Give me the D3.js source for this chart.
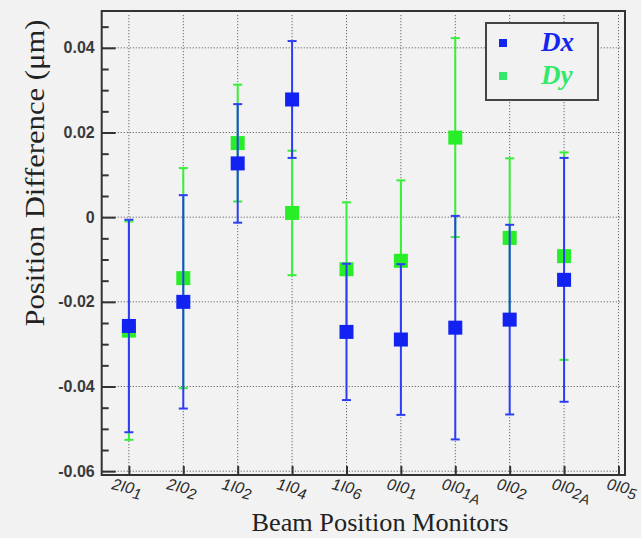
<!DOCTYPE html>
<html><head><meta charset="utf-8">
<script src="https://cdn.jsdelivr.net/npm/d3@7"></script>
<style>html,body{margin:0;padding:0;background:#f2f2f2;} svg{display:block;}</style>
</head><body>
<svg id="chart" width="641" height="538"></svg>
<script>
// ---- data ----
const categories = ["2I01","2I02","1I02","1I04","1I06","0I01","0I01A","0I02","0I02A","0I05"];
const dx    = [-0.0257, -0.0200, 0.0127, 0.0278, -0.0271, -0.0289, -0.0261, -0.0242, -0.0148];
const dxErr = [ 0.0251,  0.0252, 0.0140, 0.0138,  0.0161,  0.0178,  0.0264,  0.0224,  0.0288];
const dy    = [-0.0268, -0.0144, 0.0175, 0.0010, -0.0123, -0.0103,  0.0188, -0.0049, -0.0092];
const dyErr = [ 0.0258,  0.0260, 0.0138, 0.0147,  0.0158,  0.0190,  0.0235,  0.0188,  0.0245];
const yMajorTicks = [-0.06, -0.04, -0.02, 0, 0.02, 0.04];
const yMinorTicks = [-0.055,-0.05,-0.045,-0.035,-0.03,-0.025,-0.015,-0.01,-0.005,0.005,0.01,0.015,0.025,0.03,0.035,0.045];
const seriesNames = ["Dx","Dy"];

// ---- layout ----
const svg = d3.select("#chart");
const W = 641, H = 538;
const pL = 101.7, pR = 625, pT = 11, pB = 475;
const x = d3.scaleLinear().domain([-0.5, 9.12]).range([pL, pR]);
const y = d3.scaleLinear().domain([-0.0609, 0.0487]).range([pB, pT]);
const labelX = d3.scaleLinear().domain([0, 9]).range([111, 606]);

const BLUE = "#1222f0", BLUE_LINE = "#2c3ef4";
const GREEN = "#28ee28", GREEN_LINE = "#38ef38";

svg.append("rect").attr("width", W).attr("height", H).attr("fill", "#f2f2f2");

// grid
const grid = svg.append("g").attr("stroke", "#666").attr("stroke-width", 1).attr("stroke-dasharray", "1.2,1.8");
grid.selectAll("line.h").data(yMajorTicks).join("line")
  .attr("x1", pL + 1).attr("x2", pR - 3)
  .attr("y1", d => y(d)).attr("y2", d => y(d));
grid.selectAll("line.v").data(d3.range(categories.length)).join("line")
  .attr("x1", d => x(d)).attr("x2", d => x(d))
  .attr("y1", pT + 4).attr("y2", pB - 1);

// y axis ticks
const fmt = d => d === 0 ? "0" : d.toFixed(2);
const yAx = svg.append("g").attr("transform", `translate(${pL},0)`)
  .call(d3.axisLeft(y).tickValues(yMajorTicks).tickSize(-14).tickPadding(7).tickFormat(fmt));
yAx.select(".domain").remove();
yAx.selectAll("line").attr("stroke", "#333").attr("stroke-width", 2);
yAx.selectAll("text").attr("font-family", "'Liberation Sans', Arial, sans-serif")
  .attr("font-size", 16).attr("font-weight", "bold").attr("fill", "#3a3a3a");
const yMin = svg.append("g").attr("transform", `translate(${pL},0)`)
  .call(d3.axisLeft(y).tickValues(yMinorTicks).tickSize(-7).tickFormat(""));
yMin.select(".domain").remove();
yMin.selectAll("line").attr("stroke", "#333").attr("stroke-width", 2);

// x axis ticks
const xAx = svg.append("g").attr("transform", `translate(0,${pB})`)
  .call(d3.axisBottom(x).tickValues(d3.range(categories.length)).tickSize(-9).tickFormat(""));
xAx.select(".domain").remove();
xAx.selectAll("line").attr("stroke", "#333").attr("stroke-width", 2);

// x labels
const lab = svg.append("g").attr("font-family", "'Liberation Sans', Arial, sans-serif")
  .attr("font-style", "italic").attr("fill", "#2a2a2a");
categories.forEach((c, i) => {
  const t = lab.append("text")
    .attr("transform", `translate(${labelX(i)},489) rotate(13)`)
    .attr("font-size", 16);
  t.append("tspan").text(c.slice(0, 3));
  t.append("tspan").attr("dy", 4).attr("font-size", 15).text(c.slice(3, 4));
  if (c.length > 4) t.append("tspan").attr("dy", 3).attr("font-size", 14).text(c.slice(4));
});

// frame
svg.append("rect").attr("x", pL).attr("y", pT)
  .attr("width", pR - pL).attr("height", pB - pT)
  .attr("fill", "none").attr("stroke", "#333").attr("stroke-width", 2);

// series
function drawSeries(vals, errs, col, lineCol) {
  const g = svg.append("g");
  vals.forEach((v, i) => {
    const cx = x(i), y1 = y(v + errs[i]), y2 = y(v - errs[i]);
    g.append("line").attr("x1", cx).attr("x2", cx).attr("y1", y1).attr("y2", y2)
      .attr("stroke", lineCol).attr("stroke-width", 2);
    [y1, y2].forEach(yy => g.append("line").attr("x1", cx - 4.5).attr("x2", cx + 4.5)
      .attr("y1", yy).attr("y2", yy).attr("stroke", lineCol).attr("stroke-width", 2));
  });
  vals.forEach((v, i) => {
    g.append("rect").attr("x", x(i) - 7).attr("y", y(v) - 7)
      .attr("width", 14).attr("height", 14).attr("fill", col);
  });
}
drawSeries(dy, dyErr, GREEN, GREEN_LINE);
drawSeries(dx, dxErr, BLUE, BLUE_LINE);

// legend
const lg = svg.append("g");
lg.append("rect").attr("x", 486).attr("y", 23).attr("width", 112).attr("height", 77)
  .attr("fill", "#f2f2f2").attr("stroke", "#444").attr("stroke-width", 2);
const legCols = ["#1426ee", "#33e86a"];
seriesNames.forEach((s, k) => {
  lg.append("rect").attr("x", 499).attr("y", 39 + k * 33).attr("width", 8).attr("height", 8).attr("fill", legCols[k]);
  lg.append("text").attr("x", 541).attr("y", 51 + k * 33)
    .attr("font-family", "'Liberation Serif', 'Times New Roman', serif")
    .attr("font-style", "italic").attr("font-weight", "bold").attr("font-size", 27)
    .attr("fill", legCols[k]).text(s);
});

// titles
svg.append("text").attr("x", 380).attr("y", 531).attr("text-anchor", "middle")
  .attr("font-family", "'Liberation Serif', 'Times New Roman', serif").attr("font-size", 25)
  .attr("fill", "#222").attr("textLength", 257).attr("lengthAdjust", "spacingAndGlyphs")
  .text("Beam Position Monitors");
svg.append("text").attr("transform", "translate(44,173) rotate(-90)").attr("text-anchor", "middle")
  .attr("font-family", "'Liberation Serif', 'Times New Roman', serif").attr("font-size", 28)
  .attr("fill", "#222").attr("textLength", 307).attr("lengthAdjust", "spacingAndGlyphs")
  .text("Position Difference (μm)");
</script>
</body></html>
